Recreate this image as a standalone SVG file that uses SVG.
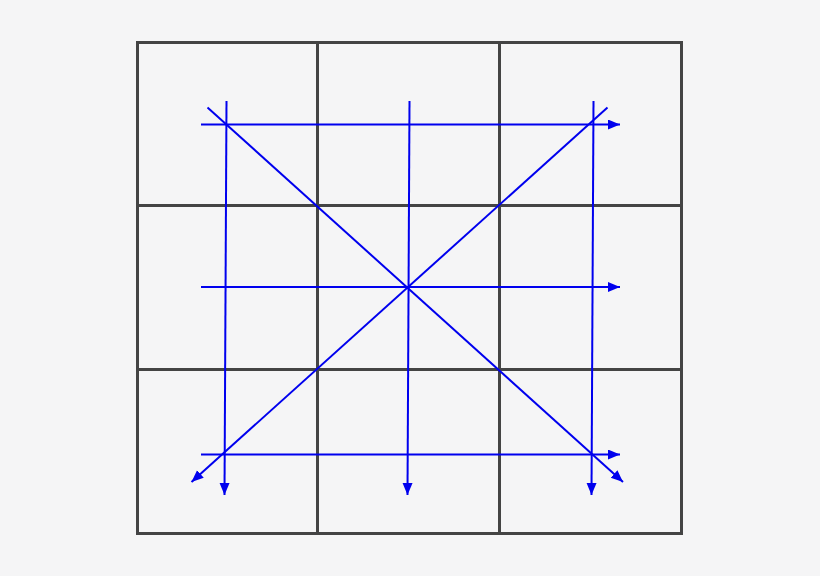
<svg xmlns="http://www.w3.org/2000/svg" width="820" height="576" viewBox="0 0 820 576">
<defs>
<style>
.grid{fill:none;stroke:#444444;stroke-width:3}
.arr{stroke:#0000ee;stroke-width:2;fill:none;marker-end:url(#ah)}
</style>
<marker id="ah" markerUnits="userSpaceOnUse" markerWidth="14" markerHeight="12" refX="12" refY="5" orient="auto">
<path d="M0,0 L12,5 L0,10 Z" fill="#0000ee"/>
</marker>
</defs>
<rect width="820" height="576" fill="#f5f5f6"/>
<g id="grid">
<rect class="grid" x="137.5" y="42.5" width="544" height="491"/>
<line class="grid" x1="317.5" y1="42.5" x2="317.5" y2="533.5"/>
<line class="grid" x1="499.5" y1="42.5" x2="499.5" y2="533.5"/>
<line class="grid" x1="137.5" y1="205.5" x2="681.5" y2="205.5"/>
<line class="grid" x1="137.5" y1="369.5" x2="681.5" y2="369.5"/>
</g>
<g id="connectors">
<line class="arr" x1="201" y1="124.5" x2="620" y2="124.5"/>
<line class="arr" x1="201" y1="287" x2="620" y2="287"/>
<line class="arr" x1="201" y1="454.5" x2="620" y2="454.5"/>
<line class="arr" x1="226.5" y1="101" x2="224.5" y2="495"/>
<line class="arr" x1="409.5" y1="101" x2="407.5" y2="495"/>
<line class="arr" x1="593.5" y1="101" x2="591.5" y2="495"/>
<line class="arr" x1="207.5" y1="107.5" x2="623" y2="482"/>
<line class="arr" x1="607.5" y1="107.5" x2="191.5" y2="482"/>
</g>
</svg>
